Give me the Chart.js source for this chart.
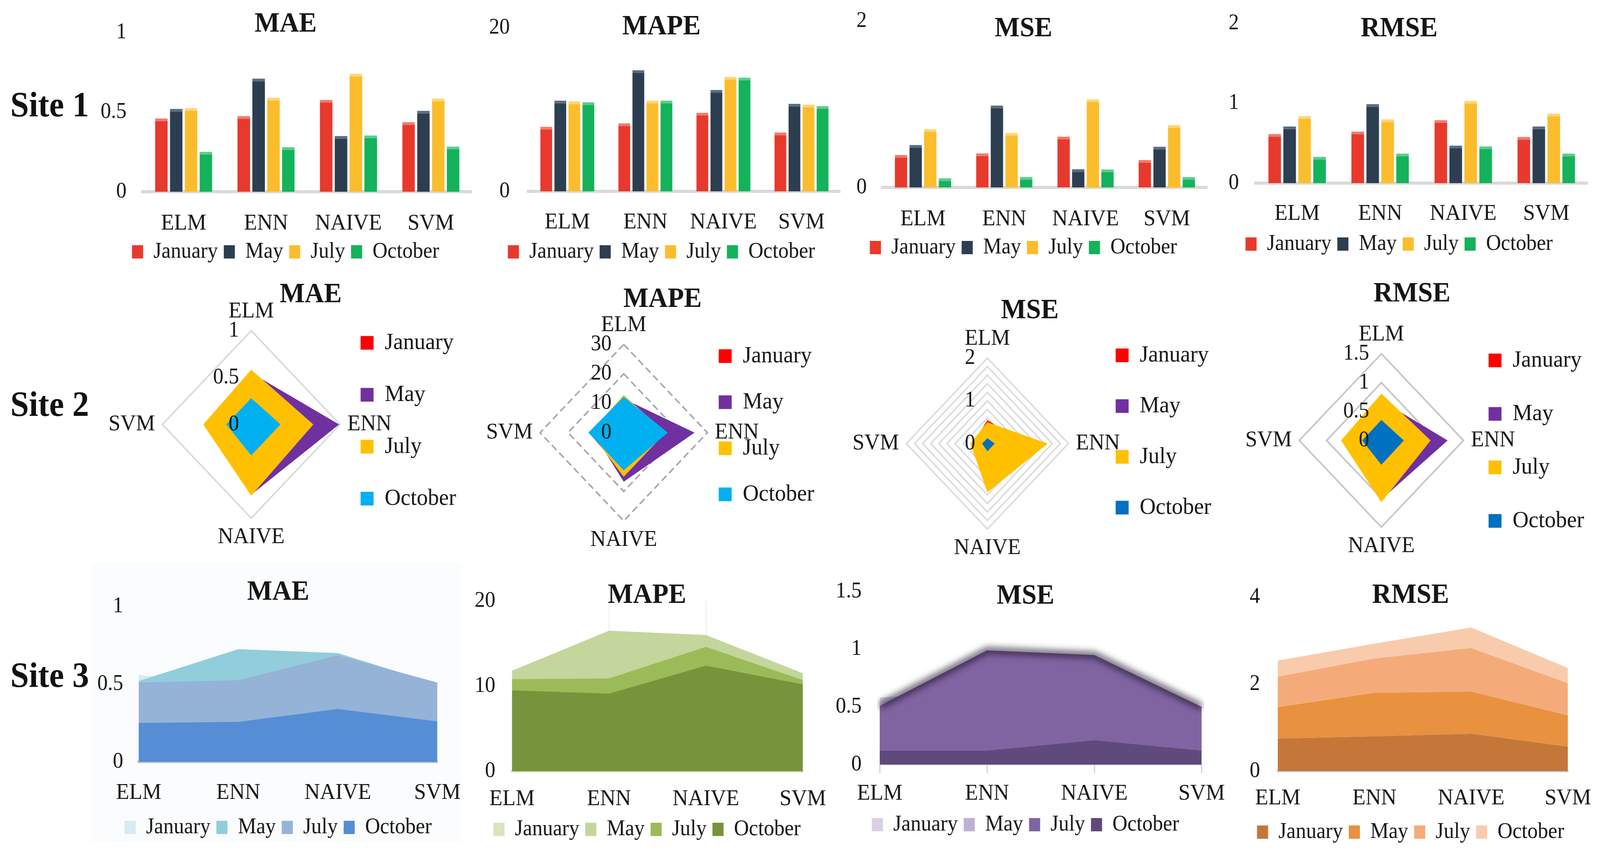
<!DOCTYPE html>
<html>
<head>
<meta charset="utf-8">
<script src="https://cdn.jsdelivr.net/npm/chart.js"></script>
<style>
html,body{margin:0;padding:0;background:#fff;overflow:hidden;}
#page{position:relative;width:4325px;height:2205px;overflow:hidden;background:#fff;transform-origin:0 0;}
.site{position:absolute;left:28px;font-family:'Liberation Serif','Times New Roman',serif;font-weight:bold;font-size:90px;line-height:90px;color:#111;white-space:nowrap;}
</style>
</head>
<body>
<div id="page">
  <div class="site" style="top:223px">Site 1</div>
  <div class="site" style="top:990px">Site 2</div>
  <div class="site" style="top:1684px">Site 3</div>
</div>
<script>
// ---------------- DATA ----------------
const methods = ['ELM', 'ENN', 'NAIVE', 'SVM'];
const months = ['January', 'May', 'July', 'October'];
const metrics = ['MAE', 'MAPE', 'MSE', 'RMSE'];

// rows = January, May, July, October ; columns = ELM, ENN, NAIVE, SVM
const site1MAE  = [[0.46, 0.475, 0.576, 0.437], [0.52, 0.71, 0.35, 0.508], [0.525, 0.59, 0.74, 0.585], [0.25, 0.28, 0.353, 0.284]];
const site1MAPE = [[7.9, 8.3, 9.6, 7.2], [11.1, 14.8, 12.4, 10.7], [11.0, 11.1, 14.0, 10.6], [10.9, 11.1, 13.9, 10.4]];
const site1MSE  = [[0.39, 0.41, 0.61, 0.33], [0.51, 0.985, 0.22, 0.49], [0.70, 0.656, 1.06, 0.75], [0.11, 0.126, 0.216, 0.126]];
const site1RMSE = [[0.615, 0.645, 0.79, 0.58], [0.71, 0.99, 0.47, 0.71], [0.84, 0.80, 1.03, 0.87], [0.33, 0.37, 0.46, 0.37]];

const site2MAE  = [[0.45, 0.6, 0.6, 0.45], [0.55, 0.99, 0.75, 0.5], [0.584, 0.70, 0.76, 0.54], [0.28, 0.33, 0.33, 0.28]];
const site2MAPE = [[10, 13, 14, 12.5], [11.5, 25.4, 16.7, 11], [12.8, 15, 15, 12], [12.2, 15.8, 12.8, 12.7]];
const site2MSE  = [[0.55, 0.9, 0.7, 0.35], [0.3, 0.7, 0.6, 0.3], [0.5, 1.49, 1.14, 0.42], [0.125, 0.18, 0.18, 0.13]];
const site2RMSE = [[0.6, 0.75, 0.8, 0.55], [0.69, 1.21, 1.02, 0.6], [0.81, 0.90, 1.07, 0.735], [0.354, 0.41, 0.42, 0.35]];

const site3MAE  = [[0.56, 0.48, 0.5, 0.4], [0.52, 0.725, 0.70, 0.50], [0.51, 0.525, 0.685, 0.51], [0.25, 0.257, 0.34, 0.26]];
const site3MAPE = [[11.0, 14.5, 14.0, 10.5], [11.8, 16.5, 16.0, 11.5], [10.8, 10.9, 14.6, 10.7], [9.5, 9.1, 12.4, 10.2]];
const site3MSE  = [[0.58, 0.65, 0.6, 0.3], [0.45, 0.8, 0.75, 0.4], [0.51, 0.99, 0.95, 0.50], [0.12, 0.12, 0.21, 0.12]];
const site3RMSE = [[0.75, 0.80, 0.86, 0.565], [0.72, 1.00, 0.97, 0.715], [0.70, 0.79, 1.00, 0.74], [0.37, 0.34, 0.47, 0.35]];

// axis maxima / tick steps
const site1Max = [1, 20, 2, 2],   site1Step = [0.5, 20, 2, 1];
const site2Max = [1, 30, 2, 1.5], site2Step = [0.5, 10, 0.2, 0.5];
const site3Max = [1, 20, 1.5, 4], site3Step = [0.5, 10, 0.5, 2];

// ---------------- STYLE / LAYOUT ----------------
const FONT = "'Liberation Serif', 'Times New Roman', serif";
const INK = '#151515';
Chart.defaults.font.family = FONT;
Chart.defaults.color = INK;

const barColors = ['#e8392d', '#2c3e50', '#fbbd2c', '#14b25a'];
const barTops   = ['#f27a6f', '#5a6d82', '#fdd678', '#5ccc8c'];
const radarColors = [
  ['#ff0000', '#7030a0', '#ffc000', '#00b0f0'],
  ['#ff0000', '#7030a0', '#ffc000', '#00b0f0'],
  ['#ff0000', '#7030a0', '#ffc000', '#0070c0'],
  ['#ff0000', '#7030a0', '#ffc000', '#0070c0']
];
const areaColors = [
  ['#d4ecf2', '#92cddc', '#95b3d7', '#558ed5'],
  ['#d7e4bd', '#c3d69b', '#9bbb59', '#77933c'],
  ['#d9d0e6', '#bfb1d4', '#8064a2', '#604a7b'],
  ['#c5773a', '#e8913f', '#f5ab79', '#f9cbad']
];

const geo1 = [
  {plot: {l: 385, r: 1276, t: 83, b: 491}, tx: 820, ty: 62, yRight: 350, lx: 565, ly: 645},
  {plot: {l: 1428, r: 2272, t: 71, b: 490}, tx: 1801, ty: 69, yRight: 1386, lx: 562, ly: 645},
  {plot: {l: 2385, r: 3264, t: 54, b: 480}, tx: 2832, ty: 74, yRight: 2351, lx: 554, ly: 634},
  {plot: {l: 3394, r: 4292, t: 60, b: 469}, tx: 3782, ty: 74, yRight: 3357, lx: 540, ly: 625}
];
const geo2 = [
  {cx: 679, cy: 1087, R: 240, BL: 975, c0: 878, S: 133, tx: 840, ty: 755},
  {cx: 1686, cy: 1108, R: 226, BL: 1943, c0: 912, S: 118, tx: 1791, ty: 767},
  {cx: 2669, cy: 1136, R: 219, BL: 3016, c0: 910, S: 130, tx: 2784, ty: 796},
  {cx: 3734, cy: 1128, R: 222, BL: 4024, c0: 923, S: 137, tx: 3817, ty: 753}
];
const geo3 = [
  {plot: {l: 375, r: 1182, t: 1553, b: 1951}, tx: 782, ty: 1517, yRight: 341, lx: 2023, ly: 2119},
  {plot: {l: 1384, r: 2170, t: 1539, b: 1975}, tx: 1756, ty: 1525, yRight: 1347, lx: 2047, ly: 2124},
  {plot: {l: 2378, r: 3248, t: 1515, b: 1958}, tx: 2772, ty: 1527, yRight: 2337, lx: 2033, ly: 2112},
  {plot: {l: 3454, r: 4238, t: 1529, b: 1975}, tx: 3813, ty: 1525, yRight: 3414, lx: 2045, ly: 2131}
];

const page = document.getElementById('page');
(function fitPage() {
  const sx = window.innerWidth / 4325, sy = window.innerHeight / 2205;
  if (isFinite(sx) && isFinite(sy) && sx > 0 && sy > 0 && (Math.abs(sx - 1) > 0.002 || Math.abs(sy - 1) > 0.002)) {
    page.style.transform = `scale(${sx}, ${sy})`;
  }
})();

const mctx = document.createElement('canvas').getContext('2d');
function textWidth(t, size, weight) {
  mctx.font = (weight ? weight + ' ' : '') + size + 'px ' + FONT;
  return mctx.measureText(t).width;
}
function addCanvas(x, y, w, h) {
  const cv = document.createElement('canvas');
  cv.width = w; cv.height = h;
  cv.style.cssText = `position:absolute;left:${x}px;top:${y}px;width:${w}px;height:${h}px;`;
  page.appendChild(cv);
  return cv;
}
const byIndex = (a, b) => a.datasetIndex - b.datasetIndex;
const fmt = (v) => String(+Number(v).toFixed(4));
function flatLabels(chart) {
  const items = Chart.defaults.plugins.legend.labels.generateLabels(chart);
  items.forEach(it => { it.lineWidth = 0; it.strokeStyle = 'rgba(0,0,0,0)'; });
  return items;
}
function arrLabels(chart) {
  const items = flatLabels(chart);
  items.forEach(it => { it.text = [it.text]; });
  return items;
}

// plugins
const bgPlugin = {
  id: 'bg',
  beforeDraw(chart, args, o) {
    if (!o || !o.color) return;
    const c = chart.ctx; c.save(); c.fillStyle = o.color; c.fillRect(0, 0, chart.width, chart.height); c.restore();
  }
};
const glowPlugin = {
  id: 'glow',
  beforeDatasetDraw(chart, args) {
    const ds = chart.data.datasets[args.index];
    if (ds.glow) { chart.ctx.save(); chart.ctx.filter = `blur(${ds.glow}px)`; }
  },
  afterDatasetDraw(chart, args) {
    const ds = chart.data.datasets[args.index];
    if (ds.glow) chart.ctx.restore();
  }
};
const radarTicks = {
  id: 'radarTicks',
  afterDatasetsDraw(chart, args, o) {
    const s = chart.scales.r, c = chart.ctx;
    c.save();
    c.font = `${o.size}px ${FONT}`; c.fillStyle = INK; c.textAlign = 'right'; c.textBaseline = 'middle';
    s.ticks.forEach(t => {
      if (t.label === '' || t.label == null) return;
      const y = s.yCenter - s.getDistanceFromCenterForValue(t.value);
      c.fillText(t.label, s.xCenter - o.offset, y);
    });
    c.restore();
  }
};

// ---------------- CARTESIAN (bar / area) ----------------
function cartesian(o) {
  const XF = 58, YF = 56, LF = 56, LPAD = 16, TF = 72;
  const g = o.g, tl = o.tickLen || 0;
  const halfLast = o.kind === 'line' ? textWidth(methods[methods.length - 1], XF) / 2 : 0;
  const right = g.plot.r + halfLast;
  const A = Math.min(2 * g.tx - right, g.plot.l - 2, g.yRight - 82);
  const x0 = Math.round(A - 10);
  const W = Math.round(right - x0);
  const H = Math.round(g.ly + LF / 2 + 10 - o.y0);
  const cv = addCanvas(x0, o.y0, W, H);

  const datasets = o.rows.map((vals, i) => {
    if (o.kind === 'bar') {
      return {label: months[i], data: vals, backgroundColor: o.colors[i], borderColor: o.tops[i],
        borderWidth: {top: 7, right: 0, bottom: 0, left: 0}, borderSkipped: 'start',
        barPercentage: 0.85, categoryPercentage: 0.72};
    }
    const ds = {label: months[i], data: vals, backgroundColor: o.colors[i], borderColor: 'rgba(0,0,0,0)',
      borderWidth: 0, pointRadius: 0, pointHoverRadius: 0, tension: 0,
      fill: o.stacked ? (i === 0 ? 'origin' : '-1') : 'origin',
      order: o.stacked ? 0 : 3 - i};
    if (o.glowIndex === i) { ds.borderWidth = 14; ds.borderColor = 'rgba(25,15,35,0.8)'; ds.glow = 9; }
    return ds;
  });

  new Chart(cv, {
    type: o.kind,
    data: {labels: methods, datasets},
    plugins: [bgPlugin, glowPlugin],
    options: {
      responsive: false, animation: false,
      layout: {padding: {left: A - x0, right: 0, top: 0, bottom: 0}},
      plugins: {
        title: {display: true, text: o.title, color: INK,
          font: {size: TF, weight: 'bold', lineHeight: 1},
          padding: {top: g.ty - TF / 2 - o.y0, bottom: g.plot.t - g.ty - TF / 2}},
        legend: {position: 'bottom',
          labels: {font: {size: LF}, color: INK, boxWidth: 30, boxHeight: 34, padding: LPAD,
            sort: byIndex, generateLabels: flatLabels}},
        tooltip: {enabled: false},
        bg: {color: o.bg || null}
      },
      scales: {
        x: {
          offset: o.kind === 'bar', z: o.xZ || 0,
          ticks: {autoSkip: false, maxRotation: 0, minRotation: 0, padding: 0, color: INK,
            font: {size: XF, lineHeight: Math.round(2 * (g.lx - g.plot.b - tl)) + 'px'}},
          grid: o.xGrid || {display: false},
          border: o.xBorder,
          afterFit: (s) => { s.height = g.ly - LF / 2 - LPAD - g.plot.b; }
        },
        y: {
          min: 0, max: o.max, stacked: !!o.stacked,
          ticks: {stepSize: o.step, padding: g.plot.l - g.yRight, color: INK, font: {size: YF, lineHeight: 1}, callback: fmt},
          grid: {display: false}, border: {display: false},
          afterFit: (s) => { s.width = g.plot.l - A; }
        }
      }
    }
  });
}

// ---------------- RADAR ----------------
function radar(o) {
  const PF = 58, PP = 20, LF = 60, BOX = 35, TF = 72, P = 20;
  const g = o.g;
  const maxItemW = BOX + LF / 2 + Math.max(...months.map(m => textWidth(m, LF)));
  const chartRight = g.BL - P;
  const LW = P + maxItemW + 10;
  const legendRight = chartRight + LW;
  const chartLeft = 2 * g.tx - legendRight;
  const x0 = Math.round(Math.min(chartLeft, g.cx - g.R - PP - 145));
  const y0 = Math.round(Math.min(g.ty - TF / 2, g.cy - g.R - PP - PF) - 8);
  const bottom = Math.max(g.cy + g.R + PP + PF + 10, g.c0 - LF / 2 + 4 * g.S + 10);
  const W = Math.round(legendRight - x0), H = Math.round(bottom - y0);
  const legTitleH = g.c0 - LF / 2 - P - y0;
  const cv = addCanvas(x0, y0, W, H);
  const xc = g.cx - x0, yc = g.cy - y0;

  const datasets = o.rows.map((vals, i) => ({
    label: months[i], data: vals, backgroundColor: o.colors[i], borderColor: 'rgba(0,0,0,0)',
    borderWidth: 0, pointRadius: 0, pointHoverRadius: 0, fill: true, clip: false, order: 3 - i
  }));

  new Chart(cv, {
    type: 'radar',
    data: {labels: methods, datasets},
    plugins: [radarTicks],
    options: {
      responsive: false, animation: false,
      layout: {padding: {left: chartLeft - x0, right: 0, top: 0, bottom: 0}},
      plugins: {
        title: {display: true, text: o.title, color: INK,
          font: {size: TF, weight: 'bold', lineHeight: 1},
          padding: {top: g.ty - TF / 2 - y0, bottom: 0}},
        legend: {position: 'right', align: 'start',
          title: {display: true, text: ' ', font: {size: 1, lineHeight: 1}, padding: {top: legTitleH - 1, bottom: 0}},
          labels: {font: {size: LF, lineHeight: Math.round(g.S - P) + 'px'}, color: INK,
            boxWidth: BOX, boxHeight: BOX, padding: P, sort: byIndex, generateLabels: arrLabels}},
        tooltip: {enabled: false},
        radarTicks: {offset: 33, size: 56}
      },
      scales: {
        r: {
          min: 0, max: o.max,
          ticks: {display: false, stepSize: o.step, callback: o.tickCb || fmt},
          grid: Object.assign({circular: false}, o.grid),
          border: o.border || {},
          angleLines: {display: false},
          pointLabels: {font: {size: PF, lineHeight: 1}, padding: PP, color: INK},
          afterSetDimensions: (s) => {
            s.xCenter = xc; s.yCenter = yc; s.drawingArea = g.R;
            s._keep = [s.left, s.right, s.top, s.bottom];
            s.left = -1e6; s.right = 1e6; s.top = -1e6; s.bottom = 1e6;
          },
          afterFit: (s) => {
            if (s._keep) { [s.left, s.right, s.top, s.bottom] = s._keep; }
          }
        }
      }
    }
  });
}

// ---------------- BUILD ----------------
const site1 = [site1MAE, site1MAPE, site1MSE, site1RMSE];
const site2 = [site2MAE, site2MAPE, site2MSE, site2RMSE];
const site3 = [site3MAE, site3MAPE, site3MSE, site3RMSE];

site1.forEach((rows, k) => cartesian({
  kind: 'bar', g: geo1[k], rows, colors: barColors, tops: barTops, title: metrics[k],
  max: site1Max[k], step: site1Step[k], y0: -20,
  xBorder: {display: true, color: '#d9d9d9', width: 8}
}));

const intOnly = (v) => Math.abs(v - Math.round(v)) < 1e-6 ? String(Math.round(v)) : '';
const radarGrids = [
  {grid: {color: '#d9d9d9', lineWidth: 4}},
  {grid: {color: '#a6a6a6', lineWidth: 4, borderDash: [18, 10]}, border: {dash: [18, 10]}},
  {grid: {color: '#dcdcdc', lineWidth: 4}, tickCb: intOnly},
  {grid: {color: '#c4c4c4', lineWidth: 4}}
];
site2.forEach((rows, k) => radar(Object.assign({
  g: geo2[k], rows, colors: radarColors[k], title: metrics[k], max: site2Max[k], step: site2Step[k]
}, radarGrids[k])));

const innerOnly = (c) => (c.index === 1 || c.index === 2);
const area3 = [
  {xBorder: {display: true, color: '#b4bcc8', width: 6}, bg: '#fafcfe'},
  {xBorder: {display: true, color: '#cfd8c0', width: 6},
   xGrid: {display: true, drawTicks: false, lineWidth: 3, color: (c) => innerOnly(c) ? '#eef1ea' : 'rgba(0,0,0,0)'}},
  {xBorder: {display: true, color: '#cfcfcf', width: 3}, tickLen: 22, glowIndex: 2,
   xGrid: {display: true, drawOnChartArea: false, drawTicks: true, tickLength: 22, lineWidth: 3, color: '#cfcfcf'}},
  {xBorder: {display: true, color: '#b7dde8', width: 6}, stacked: true, xZ: 1,
   xGrid: {display: true, drawTicks: false, lineWidth: 4, color: (c) => innerOnly(c) ? 'rgba(255,255,255,0.45)' : 'rgba(0,0,0,0)'}}
];
site3.forEach((rows, k) => cartesian(Object.assign({
  kind: 'line', g: geo3[k], rows, colors: areaColors[k], title: metrics[k],
  max: site3Max[k], step: site3Step[k], y0: 1440
}, area3[k])));
</script>
</body>
</html>
